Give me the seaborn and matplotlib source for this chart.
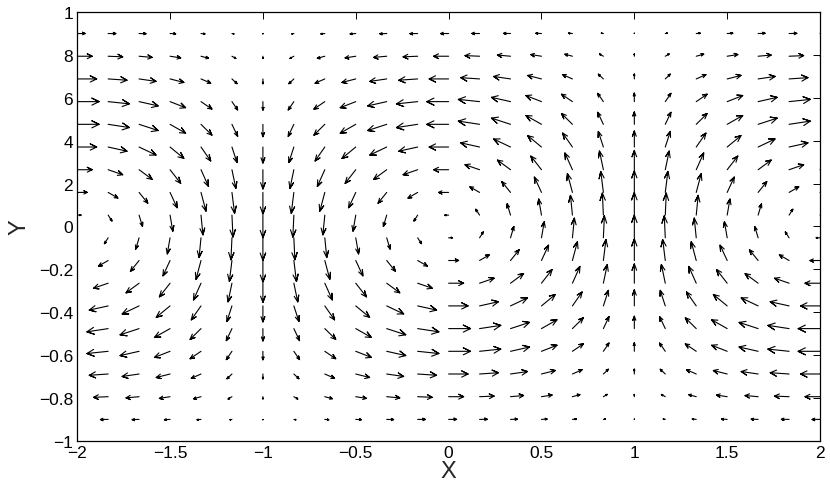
import numpy as np
import pandas as pd
import matplotlib
matplotlib.use("Agg")
import matplotlib.pyplot as plt
import seaborn as sns

# sampling grid of the vector field (25 columns x 18 rows)
x_pos = np.linspace(-2, 2, 25)
y_pos = np.linspace(-0.9, 0.9, 18)

# horizontal component: column profile (relative) x row amplitude (data units)
u_col = [-1, -0.97, -0.87, -0.71, -0.5, -0.26, 0, 0.26, 0.5, 0.71, 0.87, 0.97, 1,
         0.97, 0.87, 0.71, 0.5, 0.26, 0, -0.26, -0.5, -0.71, -0.87, -0.97, -1]
u_row = [0.043, 0.081, 0.105, 0.118, 0.118, 0.105, 0.081, 0.054, 0.021,
         -0.021, -0.054, -0.081, -0.105, -0.118, -0.118, -0.105, -0.081, -0.043]

# vertical component: column profile (relative) x row amplitude (data units)
v_col = [0, -0.26, -0.5, -0.71, -0.87, -0.97, -1, -0.97, -0.87, -0.71, -0.5, -0.26, 0,
         0.26, 0.5, 0.71, 0.87, 0.97, 1, 0.97, 0.87, 0.71, 0.5, 0.26, 0]
v_row = [0.002, 0.011, 0.023, 0.040, 0.058, 0.075, 0.090, 0.101, 0.106,
         0.106, 0.101, 0.090, 0.075, 0.058, 0.040, 0.023, 0.011, 0.002]

xticks = [-2, -1.5, -1, -0.5, 0, 0.5, 1, 1.5, 2]
xtick_labels = ["\u22122", "\u22121.5", "\u22121", "\u22120.5", "0", "0.5", "1", "1.5", "2"]
yticks = [-1, -0.8, -0.6, -0.4, -0.2, 0, 0.2, 0.4, 0.6, 0.8, 1]
ytick_labels = ["\u22121", "\u22120.8", "\u22120.6", "\u22120.4", "\u22120.2", "0",
                "2", "4", "6", "8", "1"]

# build arrows (shaft + open head, matlab quiver style)
X, Y = np.meshgrid(x_pos, y_pos)
U = np.outer(u_row, u_col)
V = np.outer(v_row, v_col)
alpha, beta = 0.33, 0.42
tipx, tipy = X + U, Y + V
w1x = tipx - alpha * (U + beta * V)
w1y = tipy - alpha * (V - beta * U)
w2x = tipx - alpha * (U - beta * V)
w2y = tipy - alpha * (V + beta * U)

pts_x = np.stack([X, tipx, w1x, tipx, w2x], axis=-1).reshape(-1, 5)
pts_y = np.stack([Y, tipy, w1y, tipy, w2y], axis=-1).reshape(-1, 5)
n = pts_x.shape[0]
df = pd.DataFrame({
    "x": pts_x.ravel(),
    "y": pts_y.ravel(),
    "arrow": np.repeat(np.arange(n), 5),
})

sns.set_style("white")
plt.rcParams["font.family"] = ["Liberation Sans", "DejaVu Sans"]

fig = plt.figure(figsize=(8.3, 4.85), dpi=100)
ax = fig.add_axes([0.093, 0.089, 0.895, 0.884])

sns.lineplot(data=df, x="x", y="y", units="arrow", estimator=None, sort=False,
             color="black", linewidth=0.8, legend=False, ax=ax)

ax.set_xlim(-2, 2)
ax.set_ylim(-1, 1)
ax.set_xticks(xticks)
ax.set_xticklabels(xtick_labels)
ax.set_yticks(yticks)
ax.set_yticklabels(ytick_labels)
ax.tick_params(direction="in", top=True, right=True, length=5, width=0.7,
               labelsize=12.5, pad=3, colors="black")
for s in ax.spines.values():
    s.set_visible(True)
    s.set_linewidth(0.9)
    s.set_color("black")

ax.set_xlabel("X", fontsize=17, labelpad=0)
ax.set_ylabel("Y", fontsize=17, rotation=90, labelpad=6)

fig.savefig("out.png", dpi=100)
